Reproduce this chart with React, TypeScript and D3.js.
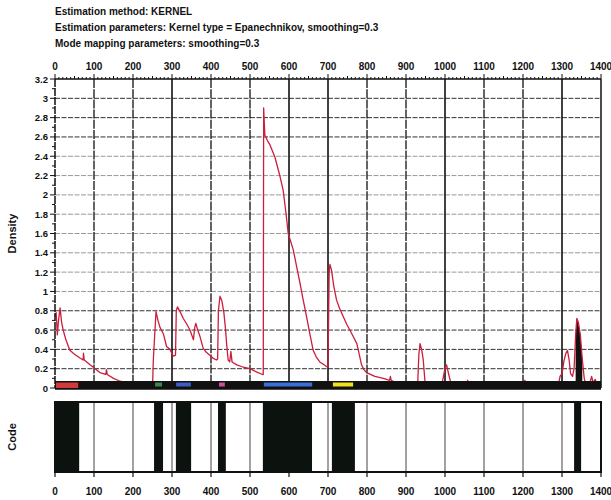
import React from "react";
import * as d3 from "d3";

// Header lines
const titleLines = [
  "Estimation method: KERNEL",
  "Estimation parameters: Kernel type = Epanechnikov, smoothing=0.3",
  "Mode mapping parameters: smoothing=0.3",
];

// Axis ticks
const xTicks = [0, 100, 200, 300, 400, 500, 600, 700, 800, 900, 1000, 1100, 1200, 1300, 1400];
const yTicks = [0, 0.2, 0.4, 0.6, 0.8, 1, 1.2, 1.4, 1.6, 1.8, 2, 2.2, 2.4, 2.6, 2.8, 3, 3.2];
const yTickLabels = ["0", "0.2", "0.4", "0.6", "0.8", "1", "1.2", "1.4", "1.6", "1.8", "2", "2.2", "2.4", "2.6", "2.8", "3", "3.2"];
// gridlines drawn solid; the rest finely dashed
const solidGrid = [300, 600, 700, 1000, 1300];

// Kernel density estimate (position, density)
const densX = [
  0, 3, 6, 9, 13, 17, 21, 28, 38, 50, 64, 72, 73, 75, 90, 103, 115, 130, 132, 134, 150, 167, 185, 200, 220, 244,
  250, 252, 254, 259, 264, 269, 278, 286, 295, 303, 309, 311, 314, 322, 329, 338, 346, 355, 358, 361, 366, 372,
  380, 388, 397, 405, 414, 417, 419, 423, 428, 433, 437, 440, 444, 448, 451, 454, 466, 480, 500, 515, 532, 534,
  535, 538, 545, 551, 564, 577, 585, 592, 598, 611, 620, 628, 636, 645, 654, 662, 670, 679, 690, 697, 700,
  703, 705, 709, 715, 722, 730, 739, 748, 756, 765, 774, 780, 786, 792, 799, 820, 842, 858, 860, 862, 876, 897,
  918, 930, 933, 936, 940, 944, 947, 950, 990, 995, 1000, 1004, 1009, 1015, 1030, 1055, 1058, 1061, 1090, 1094,
  1097, 1125, 1128, 1131, 1150, 1155, 1158, 1200, 1205, 1208, 1230, 1233, 1236, 1290, 1295, 1300, 1305, 1310,
  1314, 1318, 1322, 1327, 1331, 1335, 1338, 1342, 1347, 1352, 1357, 1360, 1372, 1376, 1380, 1385, 1390, 1395, 1400,
];
const densY = [
  0.74, 0.78, 0.55, 0.7, 0.83, 0.68, 0.6, 0.5, 0.39, 0.35, 0.31, 0.29, 0.36, 0.29, 0.24, 0.2, 0.16, 0.14, 0.19, 0.14, 0.1, 0.07, 0.05, 0.03, 0.02, 0.0,
  0.0, 0.28, 0.43, 0.79, 0.7, 0.63, 0.56, 0.43, 0.4, 0.33, 0.34, 0.8, 0.84, 0.78, 0.72, 0.66, 0.6, 0.5, 0.62, 0.67, 0.6, 0.53,
  0.41, 0.37, 0.34, 0.31, 0.29, 0.3, 0.8, 0.95, 0.9, 0.78, 0.62, 0.46, 0.29, 0.27, 0.38, 0.27, 0.24, 0.22, 0.2, 0.17, 0.14, 0.14,
  2.9, 2.62, 2.56, 2.52, 2.39, 2.19, 2.05, 1.82, 1.6, 1.43, 1.25, 1.09, 0.92, 0.74, 0.55, 0.39, 0.32, 0.27, 0.24, 0.22, 0.22,
  1.2, 1.28, 1.22, 1.05, 0.91, 0.82, 0.74, 0.66, 0.6, 0.53, 0.46, 0.35, 0.24, 0.19, 0.16, 0.12, 0.1, 0.08, 0.12, 0.08, 0.05, 0.03,
  0.04, 0.05, 0.35, 0.46, 0.4, 0.3, 0.15, 0.0, 0.0, 0.1, 0.2, 0.24, 0.15, 0.05, 0.02, 0.02, 0.08, 0.01, 0.01, 0.06,
  0.01, 0.01, 0.04, 0.01, 0.01, 0.06, 0.01, 0.01, 0.08, 0.01, 0.01, 0.06, 0.0, 0.02, 0.12, 0.15, 0.28, 0.36,
  0.39, 0.3, 0.15, 0.12, 0.2, 0.55, 0.72, 0.68, 0.55, 0.3, 0.1, 0.05, 0.06, 0.12, 0.05, 0.09, 0.03, 0.06, 0.02,
];

// Filled mode (black) at the right end
const fillFrom = 1333;
const fillTo = 1356;

// Mode segments on the data strip
const modeStart = [0, 254, 308, 418, 533, 710];
const modeEnd = [62, 277, 351, 438, 662, 767];
const modeColor = ["#d03a3a", "#3a8a4a", "#3a5fc0", "#d04f9a", "#3a6fd8", "#f2e21a"];

// Code track: regions coded 1 (black)
const codeStart = [0, 254, 310, 418, 533, 710, 1331];
const codeEnd = [62, 277, 349, 438, 659, 769, 1349];

const W = 611;
const H = 500;
const left = 55;
const right = 601;
const top = 79;
const bottom = 388;
const codeTop = 402;
const codeBottom = 472;
const font = "'Liberation Sans', Arial, Helvetica, sans-serif";
const red = "#cc1d3c";

export default function App() {
  const x = d3.scaleLinear().domain([0, 1400]).range([left, right]);
  const y = d3.scaleLinear().domain([0, 3.2]).range([bottom, top]);

  const pts: [number, number][] = densX.map((v, i) => [v, densY[i]]);
  const line = d3
    .line<[number, number]>()
    .x((d) => x(d[0]))
    .y((d) => y(d[1]));
  const area = d3
    .area<[number, number]>()
    .x((d) => x(d[0]))
    .y0(y(0))
    .y1((d) => y(d[1]));
  const fillPts = pts.filter((d) => d[0] >= fillFrom && d[0] <= fillTo);

  const minorX = d3.range(0, 1401, 10);
  const minorY = d3.range(0, 3.21, 0.1);
  const hGrid = yTicks.filter((t) => t > 0 && t < 3.2);
  const vGrid = xTicks.filter((t) => t > 0 && t < 1400);

  return (
    <svg
      width={W}
      height={H}
      style={{ position: "absolute", left: 0, top: 0, background: "#fff" }}
      fontFamily={font}
      fontWeight="bold"
    >
      {titleLines.map((t, i) => (
        <text key={t} x={55} y={15 + i * 16} fontSize={10} fill="#111">
          {t}
        </text>
      ))}

      {/* horizontal gridlines */}
      {hGrid.map((t) => (
        <line
          key={"h" + t}
          x1={left}
          x2={right}
          y1={y(t)}
          y2={y(t)}
          stroke={t <= 0.8 || t >= 2.6 ? "#333" : "#999"}
          strokeWidth={1}
          strokeDasharray="5 1.5"
        />
      ))}
      {/* vertical gridlines */}
      {vGrid.map((t) => (
        <line
          key={"v" + t}
          x1={x(t)}
          x2={x(t)}
          y1={top}
          y2={bottom}
          stroke="#111"
          strokeWidth={solidGrid.includes(t) ? 1.6 : 1.3}
          strokeDasharray={solidGrid.includes(t) ? undefined : "9 1.2"}
        />
      ))}

      {/* density curve */}
      <path d={area(fillPts) || ""} fill="#111" />
      <path d={line(pts) || ""} fill="none" stroke={red} strokeWidth={1.3} strokeLinejoin="round" />

      {/* data strip */}
      <rect x={x(0)} y={y(0) - 7} width={x(1400) - x(0)} height={8} fill="#111" />
      {modeStart.map((s, i) => (
        <rect
          key={"m" + i}
          x={x(s) + 1}
          y={y(0) - 5.5}
          width={x(modeEnd[i]) - x(s) - 2}
          height={i === 0 ? 5.5 : 4}
          fill={modeColor[i]}
        />
      ))}

      {/* frame */}
      <line x1={left} x2={right} y1={top} y2={top} stroke="#111" strokeWidth={1.5} />
      <line x1={left} x2={left} y1={top} y2={bottom} stroke="#111" strokeWidth={1.5} strokeDasharray="8 1" />
      <line x1={right} x2={right} y1={top} y2={bottom} stroke="#111" strokeWidth={1.5} />
      <line x1={left} x2={right} y1={bottom + 1} y2={bottom + 1} stroke="#111" strokeWidth={1.5} />

      {/* top axis */}
      {minorX.map((t) => (
        <line
          key={"tx" + t}
          x1={x(t)}
          x2={x(t)}
          y1={top}
          y2={top - (t % 100 === 0 ? 5 : t % 50 === 0 ? 3 : 2)}
          stroke="#111"
          strokeWidth={1}
        />
      ))}
      {xTicks.map((t) => (
        <text key={"xl" + t} x={x(t)} y={70} fontSize={10} textAnchor="middle" fill="#111">
          {t}
        </text>
      ))}

      {/* left axis */}
      {minorY.map((t, i) => (
        <line
          key={"ty" + i}
          x1={left}
          x2={left - (i % 2 === 0 ? 5 : 3)}
          y1={y(t)}
          y2={y(t)}
          stroke="#111"
          strokeWidth={1}
        />
      ))}
      {yTicks.map((t, i) => (
        <text key={"yl" + t} x={48} y={y(t) + 3.5} fontSize={9.5} textAnchor="end" fill="#111">
          {yTickLabels[i]}
        </text>
      ))}
      <text
        transform={`translate(16,${(top + bottom) / 2}) rotate(-90)`}
        fontSize={11}
        textAnchor="middle"
        fill="#111"
      >
        Density
      </text>

      {/* code track */}
      {vGrid.map((t) => (
        <line
          key={"cv" + t}
          x1={x(t)}
          x2={x(t)}
          y1={codeTop}
          y2={codeBottom}
          stroke="#444"
          strokeWidth={1}
        />
      ))}
      {codeStart.map((s, i) => (
        <rect
          key={"c" + i}
          x={x(s)}
          y={codeTop}
          width={x(codeEnd[i]) - x(s)}
          height={codeBottom - codeTop}
          fill="#0c120e"
        />
      ))}
      <rect
        x={left}
        y={codeTop}
        width={right - left}
        height={codeBottom - codeTop}
        fill="none"
        stroke="#111"
        strokeWidth={2}
      />
      {xTicks.map((t) => (
        <g key={"bx" + t}>
          <line x1={x(t)} x2={x(t)} y1={codeBottom} y2={codeBottom + 5} stroke="#111" strokeWidth={1.2} />
          <text x={x(t)} y={495} fontSize={10} textAnchor="middle" fill="#111">
            {t}
          </text>
        </g>
      ))}
      <text
        transform={`translate(16,${(codeTop + codeBottom) / 2}) rotate(-90)`}
        fontSize={11}
        textAnchor="middle"
        fill="#111"
      >
        Code
      </text>
    </svg>
  );
}
